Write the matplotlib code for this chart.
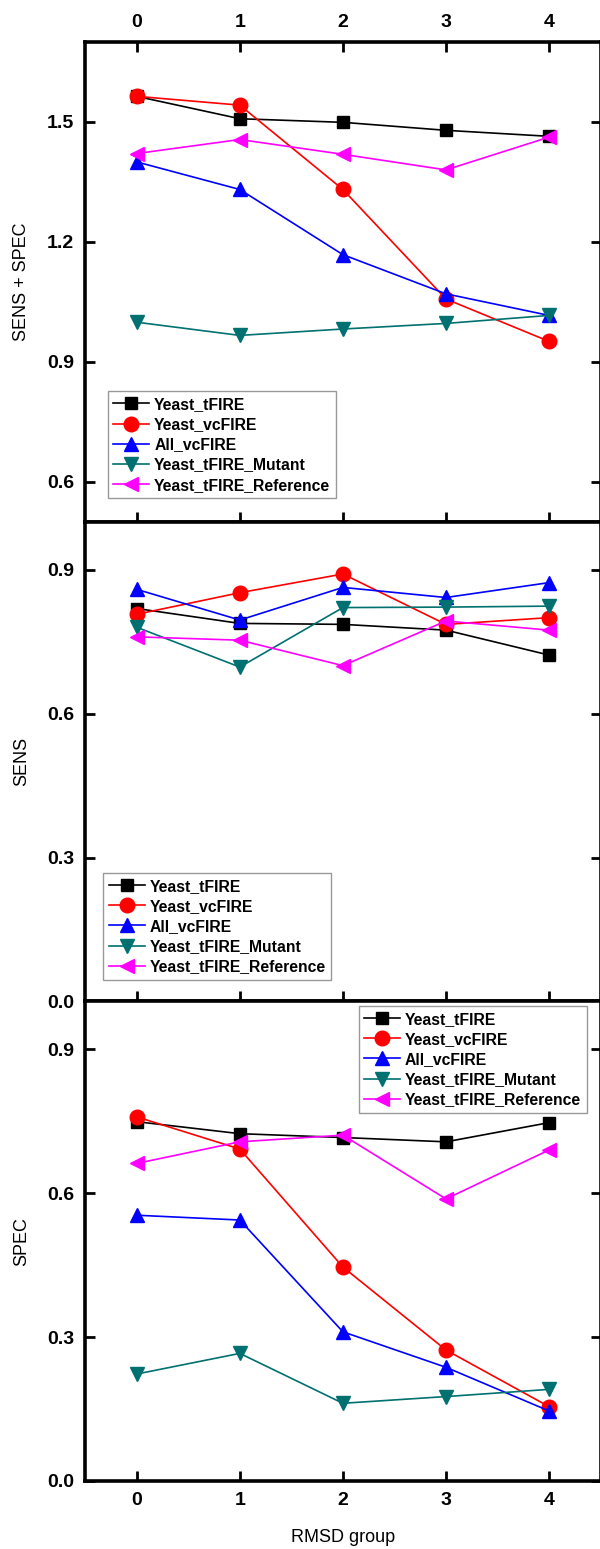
import matplotlib
matplotlib.use("Agg")
import matplotlib.pyplot as plt

plt.rcParams['font.family'] = ['Liberation Sans', 'DejaVu Sans']
plt.rcParams['font.weight'] = 'bold'

# ================= DATA =================
groups = [0, 1, 2, 3, 4]
series_names = ["Yeast_tFIRE", "Yeast_vcFIRE", "All_vcFIRE",
                "Yeast_tFIRE_Mutant", "Yeast_tFIRE_Reference"]

# SENS + SPEC
sum_tfire = [1.564, 1.508, 1.499, 1.479, 1.464]
sum_vcfire = [1.564, 1.542, 1.331, 1.057, 0.951]
sum_all = [1.400, 1.331, 1.168, 1.070, 1.016]
sum_mutant = [0.999, 0.966, 0.982, 0.996, 1.016]
sum_ref = [1.421, 1.456, 1.419, 1.380, 1.462]

# SENS
sens_tfire = [0.819, 0.788, 0.786, 0.774, 0.722]
sens_vcfire = [0.807, 0.852, 0.891, 0.786, 0.800]
sens_all = [0.859, 0.795, 0.863, 0.842, 0.873]
sens_mutant = [0.780, 0.697, 0.821, 0.822, 0.824]
sens_ref = [0.760, 0.753, 0.700, 0.793, 0.774]

# SPEC
spec_tfire = [0.749, 0.724, 0.716, 0.707, 0.747]
spec_vcfire = [0.759, 0.692, 0.446, 0.273, 0.155]
spec_all = [0.554, 0.544, 0.311, 0.237, 0.146]
spec_mutant = [0.223, 0.266, 0.162, 0.176, 0.191]
spec_ref = [0.662, 0.707, 0.721, 0.588, 0.690]

# ================= STYLE =================
colors = ["black", "red", "blue", "#007070", "magenta"]
markers = ["s", "o", "^", "v", "<"]
msizes = [9, 10.5, 10.5, 10.5, 10.5]

fig = plt.figure(figsize=(6, 15.49), dpi=100)

left, width = 0.142, 0.859
ax_top = fig.add_axes([left, 0.6632, width, 0.3097])
ax_mid = fig.add_axes([left, 0.3535, width, 0.3097])
ax_bot = fig.add_axes([left, 0.0439, width, 0.3097])

panels = [
    (ax_top, [sum_tfire, sum_vcfire, sum_all, sum_mutant, sum_ref],
     "SENS + SPEC", (0.5, 1.7), [0.6, 0.9, 1.2, 1.5]),
    (ax_mid, [sens_tfire, sens_vcfire, sens_all, sens_mutant, sens_ref],
     "SENS", (0.0, 1.0), [0.0, 0.3, 0.6, 0.9]),
    (ax_bot, [spec_tfire, spec_vcfire, spec_all, spec_mutant, spec_ref],
     "SPEC", (0.0, 1.0), [0.0, 0.3, 0.6, 0.9]),
]

for ax, data, ylab, ylim, yticks in panels:
    for vals, name, c, m, ms in zip(data, series_names, colors, markers, msizes):
        ax.plot(groups, vals, color=c, marker=m, markersize=ms, linewidth=1.2,
                markeredgecolor=c, label=name)
    ax.set_xlim(-0.5, 4.5)
    ax.set_ylim(*ylim)
    ax.set_yticks(yticks)
    ax.set_yticklabels(["%.1f" % t for t in yticks])
    ax.set_xticks(groups)
    ax.set_ylabel(ylab, fontsize=13, fontweight="normal", labelpad=12)
    for s in ax.spines.values():
        s.set_linewidth(2.6)
    ax.tick_params(direction="in", length=7, width=2, right=True,
                   labelsize=14, pad=8)

ax_top.tick_params(top=True, labeltop=True, labelbottom=False)
ax_mid.tick_params(labelbottom=False)
ax_bot.set_xlabel("RMSD group", fontsize=13, fontweight="normal", labelpad=14)

leg_kw = dict(prop={"weight": "bold", "size": 11.3}, frameon=True, fancybox=False,
              edgecolor="gray", borderaxespad=0, handlelength=2.3,
              handletextpad=0.3, labelspacing=0.33, borderpad=0.35)
l1 = ax_top.legend(loc="lower left", bbox_to_anchor=(0.044, 0.049), **leg_kw)
l2 = ax_mid.legend(loc="lower left", bbox_to_anchor=(0.035, 0.045), **leg_kw)
l3 = ax_bot.legend(loc="upper right", bbox_to_anchor=(0.973, 0.99), **leg_kw)
for lg in (l1, l2, l3):
    lg.get_frame().set_linewidth(1.0)

fig.savefig("out.png", dpi=100)
